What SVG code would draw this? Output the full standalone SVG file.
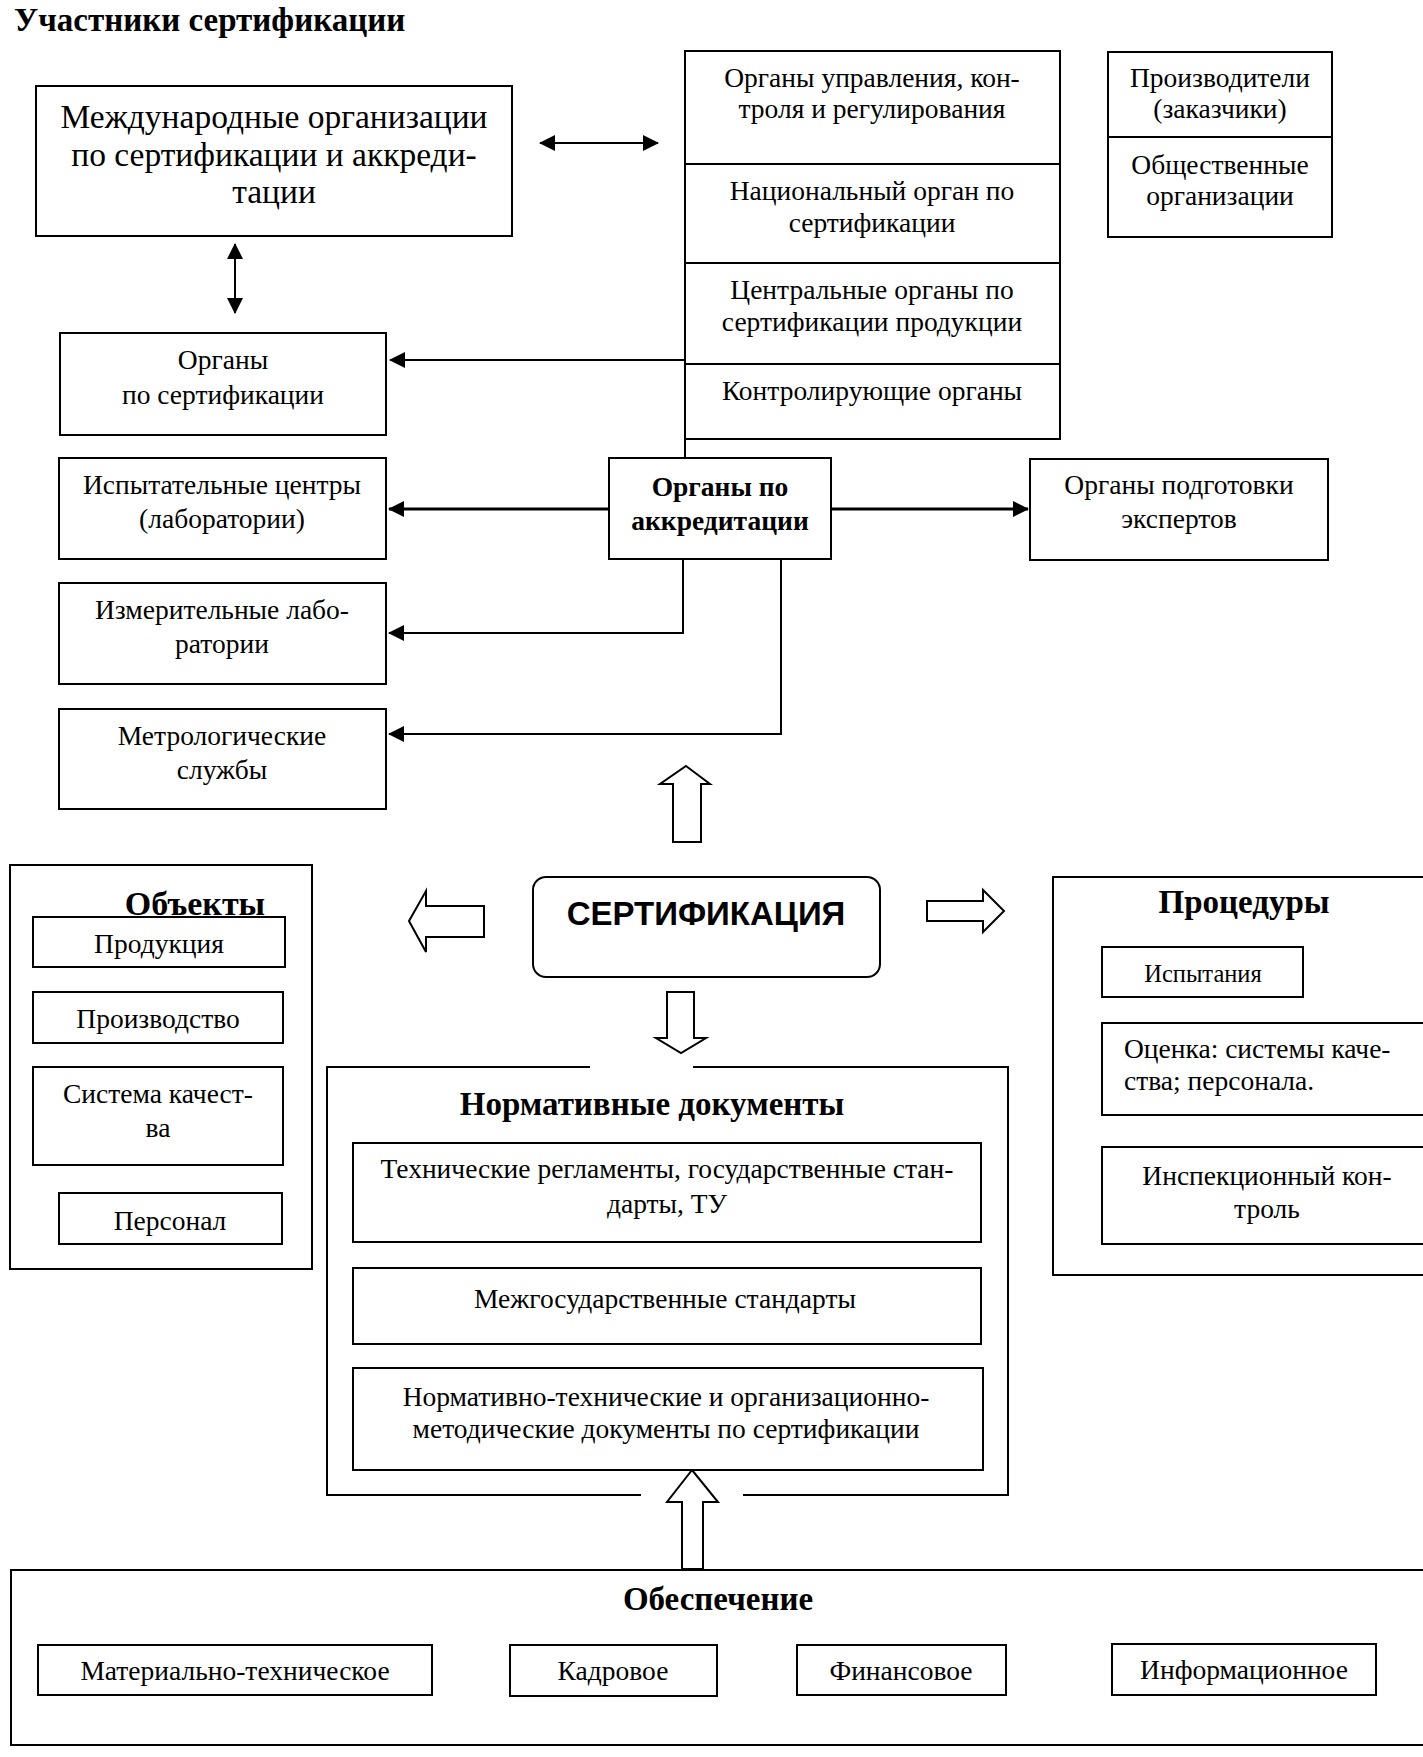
<svg xmlns="http://www.w3.org/2000/svg" width="1423" height="1757" viewBox="0 0 1423 1757">
<defs>
<style>
.b{fill:#fff;stroke:#000;stroke-width:2}
.o{fill:none;stroke:#000;stroke-width:2}
.t{font-family:"Liberation Serif","Times New Roman",serif;font-size:27.5px;fill:#000;text-anchor:middle}
.tl{text-anchor:start}
.bd{font-weight:bold}
.c{fill:none;stroke:#000;stroke-width:2}
.ck{fill:none;stroke:#000;stroke-width:3}
.h{fill:#fff;stroke:#000;stroke-width:2;stroke-linejoin:miter}
</style>
<marker id="ah" viewBox="0 0 16 16" refX="15" refY="8" markerWidth="16" markerHeight="16" markerUnits="userSpaceOnUse" orient="auto-start-reverse">
<path d="M0,0 L16,8 L0,16 Z" fill="#000"/>
</marker>
</defs>
<rect width="1423" height="1757" fill="#fff"/>
<text class="t tl bd" x="14" y="31" style="font-size:33px">Участники сертификации</text>

<g id="connectors">
<line class="c" x1="540" y1="143" x2="658" y2="143" marker-start="url(#ah)" marker-end="url(#ah)"/>
<line class="c" x1="235" y1="244" x2="235" y2="313" marker-start="url(#ah)" marker-end="url(#ah)"/>
<line class="c" x1="685" y1="360" x2="390" y2="360" marker-end="url(#ah)"/>
<line class="c" x1="685" y1="439" x2="685" y2="458"/>
<line class="ck" x1="609" y1="509" x2="389" y2="509" marker-end="url(#ah)"/>
<line class="ck" x1="831" y1="509" x2="1028" y2="509" marker-end="url(#ah)"/>
<polyline class="c" points="683,559 683,633 389,633" marker-end="url(#ah)"/>
<polyline class="c" points="781,559 781,734 389,734" marker-end="url(#ah)"/>
<polygon class="h" points="686,766 710,784 701,784 701,842 673,842 673,784 660,784"/>
<polygon class="h" points="409,921 426,891 426,906 484,906 484,937 426,937 426,952"/>
<polygon class="h" points="927,901 983,901 983,890 1004,911 983,932 983,921 927,921"/>
<polygon class="h" points="667,992 694,992 694,1038 706,1038 681,1053 656,1038 667,1038"/>
<polygon class="h" points="692,1470 718,1502 703,1502 703,1569 682,1569 682,1502 667,1502"/>
</g>

<g id="intl">
<rect class="b" x="36" y="86" width="476" height="150"/>
<text class="t" x="274" y="128" style="font-size:33.5px">Международные организации</text>
<text class="t" x="274" y="166" style="font-size:33.5px">по сертификации и аккреди-</text>
<text class="t" x="274" y="203" style="font-size:33.5px">тации</text>
</g>

<g id="organy-sert">
<rect class="b" x="60" y="333" width="326" height="102"/>
<text class="t" x="223" y="369">Органы</text>
<text class="t" x="223" y="404">по сертификации</text>
</g>

<g id="stack">
<rect class="b" x="685" y="51" width="375" height="388"/>
<line class="o" x1="685" y1="164" x2="1060" y2="164"/>
<line class="o" x1="685" y1="263" x2="1060" y2="263"/>
<line class="o" x1="685" y1="364" x2="1060" y2="364"/>
<text class="t" x="872" y="87">Органы управления, кон-</text>
<text class="t" x="872" y="118">троля и регулирования</text>
<text class="t" x="872" y="200">Национальный орган по</text>
<text class="t" x="872" y="232">сертификации</text>
<text class="t" x="872" y="299">Центральные органы по</text>
<text class="t" x="872" y="331">сертификации продукции</text>
<text class="t" x="872" y="400">Контролирующие органы</text>
</g>

<g id="producers">
<rect class="b" x="1108" y="52" width="224" height="185"/>
<line class="o" x1="1108" y1="137" x2="1332" y2="137"/>
<text class="t" x="1220" y="87">Производители</text>
<text class="t" x="1220" y="118">(заказчики)</text>
<text class="t" x="1220" y="174">Общественные</text>
<text class="t" x="1220" y="205">организации</text>
</g>

<g id="accred">
<rect class="b" x="609" y="458" width="222" height="101"/>
<text class="t bd" x="720" y="496">Органы по</text>
<text class="t bd" x="720" y="530">аккредитации</text>
</g>

<g id="test-centers">
<rect class="b" x="59" y="458" width="327" height="101"/>
<text class="t" x="222" y="494">Испытательные центры</text>
<text class="t" x="222" y="528">(лаборатории)</text>
</g>

<g id="experts">
<rect class="b" x="1030" y="459" width="298" height="101"/>
<text class="t" x="1179" y="494">Органы подготовки</text>
<text class="t" x="1179" y="528">экспертов</text>
</g>

<g id="measure-labs">
<rect class="b" x="59" y="583" width="327" height="101"/>
<text class="t" x="222" y="619">Измерительные лабо-</text>
<text class="t" x="222" y="653">ратории</text>
</g>

<g id="metrology">
<rect class="b" x="59" y="709" width="327" height="100"/>
<text class="t" x="222" y="745">Метрологические</text>
<text class="t" x="222" y="779">службы</text>
</g>

<g id="objects">
<rect class="b" x="10" y="865" width="302" height="404"/>
<text class="t bd" x="195" y="915" style="font-size:34px">Объекты</text>
<rect class="b" x="33" y="917" width="252" height="50"/>
<text class="t" x="159" y="953">Продукция</text>
<rect class="b" x="33" y="992" width="250" height="51"/>
<text class="t" x="158" y="1028">Производство</text>
<rect class="b" x="33" y="1067" width="250" height="98"/>
<text class="t" x="158" y="1103">Система качест-</text>
<text class="t" x="158" y="1137">ва</text>
<rect class="b" x="59" y="1193" width="223" height="51"/>
<text class="t" x="170" y="1230">Персонал</text>
</g>

<g id="cert">
<rect class="b" x="533" y="877" width="347" height="100" rx="13"/>
<text x="706" y="925" style="font-family:'Liberation Sans',Arial,sans-serif;font-size:33px;font-weight:bold;text-anchor:middle">СЕРТИФИКАЦИЯ</text>
</g>

<g id="procedures">
<path class="o" d="M1423,877 H1053 V1275 H1423"/>
<text class="t bd" x="1244" y="913" style="font-size:33px">Процедуры</text>
<rect class="b" x="1102" y="947" width="201" height="50"/>
<text class="t" x="1203" y="982" style="font-size:24.5px">Испытания</text>
<path class="o" d="M1423,1023 H1102 V1115 H1423"/>
<text class="t tl" x="1124" y="1058">Оценка: системы каче-</text>
<text class="t tl" x="1124" y="1090">ства; персонала.</text>
<path class="o" d="M1423,1147 H1102 V1244 H1423"/>
<text class="t" x="1267" y="1185">Инспекционный кон-</text>
<text class="t" x="1267" y="1218">троль</text>
</g>

<g id="normdocs">
<path class="o" d="M693,1067 H1008 V1495 H743 M641,1495 H327 V1067 H590"/>
<text class="t bd" x="652" y="1115" style="font-size:33px">Нормативные документы</text>
<rect class="b" x="353" y="1143" width="628" height="99"/>
<text class="t" x="667" y="1178">Технические регламенты, государственные стан-</text>
<text class="t" x="667" y="1213">дарты, ТУ</text>
<rect class="b" x="353" y="1268" width="628" height="76"/>
<text class="t" x="665" y="1308">Межгосударственные стандарты</text>
<rect class="b" x="353" y="1368" width="630" height="102"/>
<text class="t" x="666" y="1406">Нормативно-технические и организационно-</text>
<text class="t" x="666" y="1438">методические документы по сертификации</text>
</g>

<g id="support">
<path class="o" d="M1423,1570 H11 V1745 H1423"/>
<text class="t bd" x="718" y="1610" style="font-size:33px">Обеспечение</text>
<rect class="b" x="38" y="1645" width="394" height="50"/>
<text class="t" x="235" y="1680">Материально-техническое</text>
<rect class="b" x="510" y="1645" width="207" height="51"/>
<text class="t" x="613" y="1680">Кадровое</text>
<rect class="b" x="797" y="1645" width="209" height="50"/>
<text class="t" x="901" y="1680">Финансовое</text>
<rect class="b" x="1112" y="1644" width="264" height="51"/>
<text class="t" x="1244" y="1679">Информационное</text>
</g>
</svg>
